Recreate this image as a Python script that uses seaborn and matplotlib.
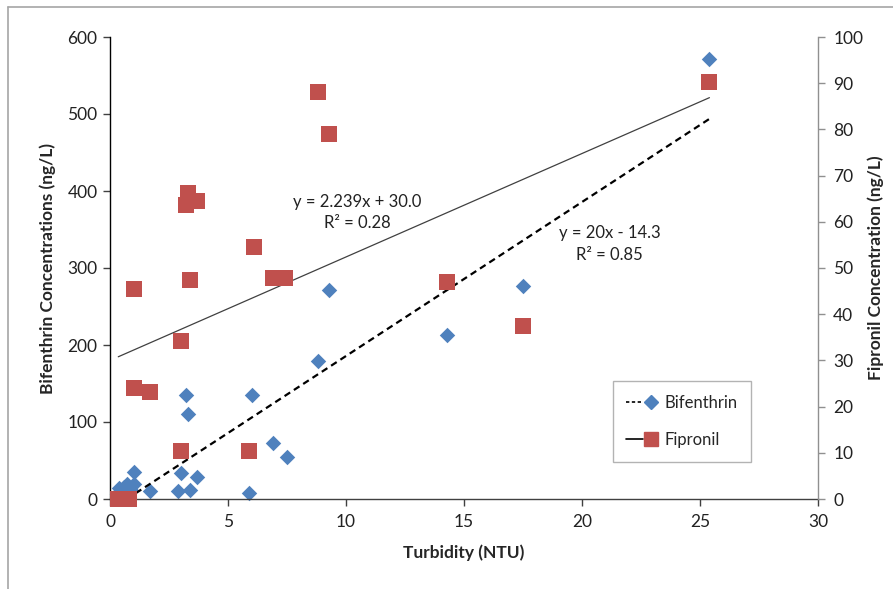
import numpy as np
import pandas as pd
import seaborn as sns
import matplotlib
matplotlib.use("Agg")
import matplotlib.pyplot as plt
from matplotlib.lines import Line2D
from matplotlib.legend_handler import HandlerTuple

# ---- data ----
bif_x = [25.4, 17.5, 14.3, 9.3, 8.8, 6.0, 3.2, 3.3, 6.9, 7.5, 1.0, 3.0, 3.7,
         1.7, 2.9, 3.4, 5.9, 1.0, 0.7, 0.4, 0.6, 0.9, 0.3, 0.8]
bif_y = [571, 277, 213, 271, 179, 135, 135, 110, 73, 54, 35, 34, 28,
         10, 11, 12, 8, 19, 20, 14, 16, 12, 6, 3]
fip_x = [25.4, 8.8, 9.3, 3.3, 3.2, 3.7, 6.1, 3.4, 1.0, 6.9, 7.4, 14.3, 17.5,
         3.0, 1.0, 1.7, 3.0, 5.9, 0.35, 0.8]
fip_y = [90.3, 88.0, 79.0, 66.3, 63.6, 64.6, 54.6, 47.5, 45.5, 47.8, 47.8, 46.9,
         37.5, 34.2, 24.0, 23.1, 10.3, 10.4, 0, 0]
bif_slope, bif_icpt = 20.0, -14.3
fip_slope, fip_icpt = 2.239, 30.0
bif_eq = ["y = 20x - 14.3", "R² = 0.85"]
fip_eq = ["y = 2.239x + 30.0", "R² = 0.28"]
series_names = ["Bifenthrin", "Fipronil"]
x_label = "Turbidity (NTU)"
y_label = "Bifenthrin Concentrations (ng/L)"
y2_label = "Fipronil Concentration (ng/L)"

BLUE = "#4F81BD"
RED = "#C0504D"

sns.set_theme(style="white")
plt.rcParams["font.family"] = ["Lato", "DejaVu Sans"]

fig = plt.figure(figsize=(8.93, 5.89), dpi=100)
ax = fig.add_axes([110/893, 1-499/589, (818-110)/893, (499-37)/589])
ax2 = ax.twinx()

bif = pd.DataFrame({"x": bif_x, "y": bif_y})
fip = pd.DataFrame({"x": fip_x, "y": fip_y})

# trendlines
xr = np.array([min(bif_x), max(bif_x)])
ax.plot(xr, bif_slope*xr + bif_icpt, ls=(0, (3, 2)), color="black", lw=1.6, zorder=3)
xr2 = np.array([min(fip_x), max(fip_x)])
ax2.plot(xr2, fip_slope*xr2 + fip_icpt, ls="-", color="#404040", lw=0.9, zorder=1)

sns.scatterplot(data=bif, x="x", y="y", ax=ax, marker="D", s=62, color=BLUE,
                linewidth=0, zorder=2, clip_on=False, legend=False)
sns.scatterplot(data=fip, x="x", y="y", ax=ax2, marker="s", s=125, color=RED,
                linewidth=0, zorder=2, clip_on=False, legend=False)

ax.set_xlim(0, 30)
ax.set_ylim(0, 600)
ax2.set_ylim(0, 100)
ax.set_xticks(range(0, 31, 5))
ax.set_yticks(range(0, 601, 100))
ax2.set_yticks(range(0, 101, 10))

for a in (ax, ax2):
    a.spines["top"].set_visible(False)
ax.spines["left"].set_color("black")
ax.spines["bottom"].set_color("#404040")
ax2.spines["right"].set_color("#909090")
ax2.spines["left"].set_visible(False)
ax2.spines["bottom"].set_visible(False)
ax.spines["right"].set_visible(False)
for s in ["left", "bottom"]:
    ax.spines[s].set_linewidth(1.0)
ax2.spines["right"].set_linewidth(1.0)

ax.tick_params(axis="both", direction="out", length=5, width=1, labelsize=12.5,
               colors="#404040", labelcolor="#222222", left=True, bottom=True, pad=4)
ax.tick_params(axis="x", pad=6)
ax2.tick_params(axis="y", direction="out", length=5, width=1, labelsize=12.5,
                colors="#909090", labelcolor="#222222", right=True, pad=6)

ax.set_xlabel(x_label, fontsize=12.5, fontweight="bold", labelpad=10)
ax.set_ylabel(y_label, fontsize=12.5, fontweight="bold", labelpad=8)
ax2.set_ylabel(y2_label, fontsize=12.5, fontweight="bold", labelpad=3)
ax.grid(False); ax2.grid(False)

# equations
ax.text(0.349, 0.62, "\n".join(fip_eq), transform=ax.transAxes, ha="center",
        va="center", fontsize=12, linespacing=1.4, color="#222222")
ax.text(0.706, 0.552, "\n".join(bif_eq), transform=ax.transAxes, ha="center",
        va="center", fontsize=12, linespacing=1.4, color="#222222")

# legend
h_bif = (Line2D([], [], ls=(0, (2, 1.5)), color="black", lw=1.2),
         Line2D([], [], ls="none", marker="D", markersize=7.5, color=BLUE))
h_fip = (Line2D([], [], ls="-", color="black", lw=1.2),
         Line2D([], [], ls="none", marker="s", markersize=10, color=RED))
leg = ax2.legend([h_bif, h_fip], series_names,
                 handler_map={tuple: HandlerTuple(ndivide=None, pad=0.0)},
                 loc="upper left", bbox_to_anchor=(0.71, 0.255), frameon=True,
                 fancybox=False, fontsize=12, handlelength=2.0, labelspacing=1.3,
                 borderpad=0.8, handletextpad=0.3, borderaxespad=0)
leg.get_frame().set_edgecolor("#a0a0a0")
leg.get_frame().set_linewidth(1.0)

# outer border (partial frame as in reference)
fig.add_artist(Line2D([7.5/893, 1], [1-7/589, 1-7/589], transform=fig.transFigure,
                      color="#a6a6a6", lw=1.2))
fig.add_artist(Line2D([7.5/893, 7.5/893], [0, 1-7/589], transform=fig.transFigure,
                      color="#a6a6a6", lw=1.2))

fig.savefig("out.png", dpi=100)
